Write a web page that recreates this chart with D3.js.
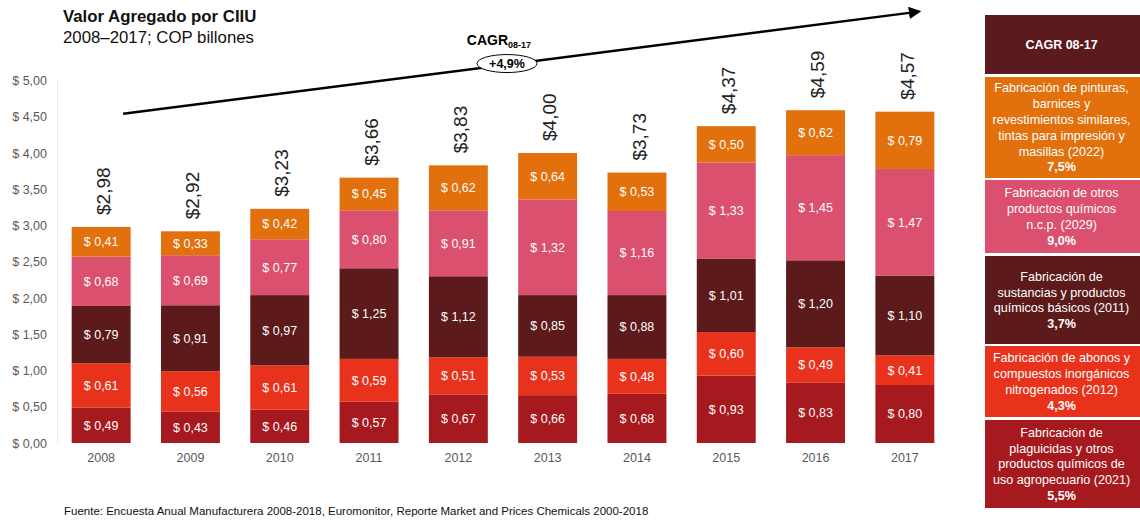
<!DOCTYPE html>
<html><head><meta charset="utf-8">
<script src="https://cdn.jsdelivr.net/npm/d3@7"></script>
<style>
body{margin:0;background:#fff;}
svg{display:block;font-family:"Liberation Sans",Arial,sans-serif;}
</style></head>
<body><svg id="chart" width="1140" height="521"></svg>
<script>
const years = ["2008","2009","2010","2011","2012","2013","2014","2015","2016","2017"];
const plaguicidas = [0.49,0.43,0.46,0.57,0.67,0.66,0.68,0.93,0.83,0.80];
const abonos      = [0.61,0.56,0.61,0.59,0.51,0.53,0.48,0.60,0.49,0.41];
const sustancias  = [0.79,0.91,0.97,1.25,1.12,0.85,0.88,1.01,1.20,1.10];
const otros       = [0.68,0.69,0.77,0.80,0.91,1.32,1.16,1.33,1.45,1.47];
const pinturas    = [0.41,0.33,0.42,0.45,0.62,0.64,0.53,0.50,0.62,0.79];
const totals      = [2.98,2.92,3.23,3.66,3.83,4.00,3.73,4.37,4.59,4.57];
const yTicks = [0,0.5,1,1.5,2,2.5,3,3.5,4,4.5,5];
const seriesKeys = ["plaguicidas","abonos","sustancias","otros","pinturas"];
const seriesColors = ["#A6191E","#E8321C","#5C1A1B","#DB4F6F","#E2700C"];
const legendItems = [
  {lines:["Fabricación de pinturas,","barnices y","revestimientos similares,","tintas para impresión y","masillas (2022)"], cagr:"7,5%", color:"#E2700C"},
  {lines:["Fabricación de otros","productos químicos","n.c.p. (2029)"], cagr:"9,0%", color:"#DB4F6F"},
  {lines:["Fabricación de","sustancias y productos","químicos básicos (2011)"], cagr:"3,7%", color:"#5C1A1B"},
  {lines:["Fabricación de abonos y","compuestos inorgánicos","nitrogenados (2012)"], cagr:"4,3%", color:"#E8321C"},
  {lines:["Fabricación de","plaguicidas y otros","productos químicos de","uso agropecuario (2021)"], cagr:"5,5%", color:"#A6191E"}
];
const cagrTotal = "+4,9%";

const locale = d3.formatLocale({decimal:",", thousands:".", grouping:[3], currency:["$",""]});
const f2 = locale.format(".2f");

const svg = d3.select("#chart");
const table = years.map((y,i)=>({year:y, plaguicidas:plaguicidas[i], abonos:abonos[i], sustancias:sustancias[i], otros:otros[i], pinturas:pinturas[i], total:totals[i]}));
const stack = d3.stack().keys(seriesKeys)(table);

const x = d3.scaleBand().domain(years).range([56.5, 949.5]).paddingInner(0.34).paddingOuter(0.17);
const y = d3.scaleLinear().domain([0,5]).range([443, 80.5]);

// faint axis line
svg.append("line").attr("x1",57.5).attr("x2",57.5).attr("y1",y(5)).attr("y2",y(0)).attr("stroke","#ececec");

// y axis labels
const yAxis = d3.axisLeft(y).tickValues(yTicks).tickSize(0).tickPadding(0).tickFormat(d=>"$ "+f2(d));
const ga = svg.append("g").attr("transform","translate(47,0)").call(yAxis);
ga.select(".domain").remove();
ga.selectAll("text").attr("fill","#595959").attr("font-size","12.5px").attr("font-family","Liberation Sans, Arial, sans-serif");

// x axis labels
const xAxis = d3.axisBottom(x).tickSize(0).tickPadding(0);
const gx = svg.append("g").attr("transform","translate(0,453)").call(xAxis);
gx.select(".domain").remove();
gx.selectAll("text").attr("fill","#595959").attr("font-size","12.5px").attr("font-family","Liberation Sans, Arial, sans-serif");

// bars
const layers = svg.append("g").selectAll("g").data(stack).join("g").attr("fill",(d,i)=>seriesColors[i]);
layers.selectAll("rect").data(d=>d).join("rect")
  .attr("x",d=>x(d.data.year)).attr("width",x.bandwidth())
  .attr("y",d=>y(d[1])).attr("height",d=>y(d[0])-y(d[1]));
layers.selectAll("text").data(d=>d.map(v=>({v, key:d.key}))).join("text")
  .attr("x",d=>x(d.v.data.year)+x.bandwidth()/2)
  .attr("y",d=>(y(d.v[0])+y(d.v[1]))/2)
  .attr("dy","0.35em").attr("text-anchor","middle")
  .attr("fill","#fff").attr("font-size","12.5px")
  .text(d=>"$ "+f2(d.v.data[d.key]));

// totals rotated
svg.append("g").selectAll("text").data(table).join("text")
  .attr("transform",d=>`translate(${x(d.year)+x.bandwidth()/2+2},${y(d.total)-12}) rotate(-90)`)
  .attr("dy","0.35em").attr("text-anchor","start")
  .attr("fill","#222").attr("font-size","19px")
  .text(d=>"$"+f2(d.total));

// arrow
const defs = svg.append("defs");
defs.append("marker").attr("id","ah").attr("viewBox","0 0 10 10").attr("refX",8).attr("refY",5)
  .attr("markerWidth",5).attr("markerHeight",5).attr("orient","auto")
  .append("path").attr("d","M0,0 L10,5 L0,10 z").attr("fill","#000");
const ax1 = x("2008")+x.bandwidth()/2+22, ay1 = y(4.54);
const ax2 = x("2017")+x.bandwidth()/2+14, ay2 = y(5.95);
svg.append("line").attr("x1",ax1).attr("y1",ay1).attr("x2",ax2).attr("y2",ay2)
  .attr("stroke","#000").attr("stroke-width",2.5).attr("marker-end","url(#ah)");

// CAGR label + ellipse
const ex = 507, t = (ex-ax1)/(ax2-ax1), ey = ay1 + t*(ay2-ay1) - 1;
svg.append("ellipse").attr("cx",ex).attr("cy",ey).attr("rx",30).attr("ry",9)
  .attr("fill","#fff").attr("stroke","#000").attr("stroke-width",1);
svg.append("text").attr("x",ex).attr("y",ey).attr("dy","0.35em").attr("text-anchor","middle")
  .attr("font-weight","bold").attr("font-size","12.5px").attr("fill","#000").text(cagrTotal);
const ct = svg.append("text").attr("x",ex-8).attr("y",ey-19).attr("text-anchor","middle")
  .attr("font-weight","bold").attr("font-size","14px").attr("fill","#000");
ct.append("tspan").text("CAGR");
ct.append("tspan").attr("font-size","9px").attr("dy","3").text("08-17");

// title
svg.append("text").attr("x",63).attr("y",22).attr("font-weight","bold").attr("font-size","16.8px").attr("fill","#111").text("Valor Agregado por CIIU");
svg.append("text").attr("x",63).attr("y",43).attr("font-size","16.8px").attr("fill","#111").text("2008–2017; COP billones");

// footer
svg.append("text").attr("x",64).attr("y",515).attr("font-family","Liberation Sans Narrow, Arial Narrow, sans-serif")
  .attr("font-size","11.5px").attr("fill","#111").text("Fuente: Encuesta Anual Manufacturera 2008-2018, Euromonitor, Reporte Market and Prices Chemicals 2000-2018");

// legend panel
const lx = 985, lw = 155, lcx = lx + lw/2 - 1;
svg.append("rect").attr("x",lx).attr("y",15).attr("width",lw).attr("height",59).attr("fill","#5A1A1E");
svg.append("text").attr("x",lcx).attr("y",45).attr("dy","0.35em").attr("text-anchor","middle")
  .attr("fill","#fff").attr("font-weight","bold").attr("font-size","12.5px").text("CAGR 08-17");
const boxes = [[77,178],[180,253],[256,344],[346,417],[420,508]];
const lh = 15.8;
legendItems.forEach((it,i)=>{
  const [y0,y1] = boxes[i];
  svg.append("rect").attr("x",lx).attr("y",y0).attr("width",lw).attr("height",y1-y0).attr("fill",it.color);
  const n = it.lines.length + 1;
  const top = (y0+y1)/2 - (n-1)*lh/2;
  const tx = svg.append("text").attr("text-anchor","middle").attr("fill","#fff").attr("font-size","12.6px");
  it.lines.forEach((l,j)=>tx.append("tspan").attr("x",lcx).attr("y",top+j*lh).attr("dy","0.35em").text(l));
  tx.append("tspan").attr("x",lcx).attr("y",top+(n-1)*lh).attr("dy","0.35em").attr("font-weight","bold").text(it.cagr);
});
</script></body></html>
